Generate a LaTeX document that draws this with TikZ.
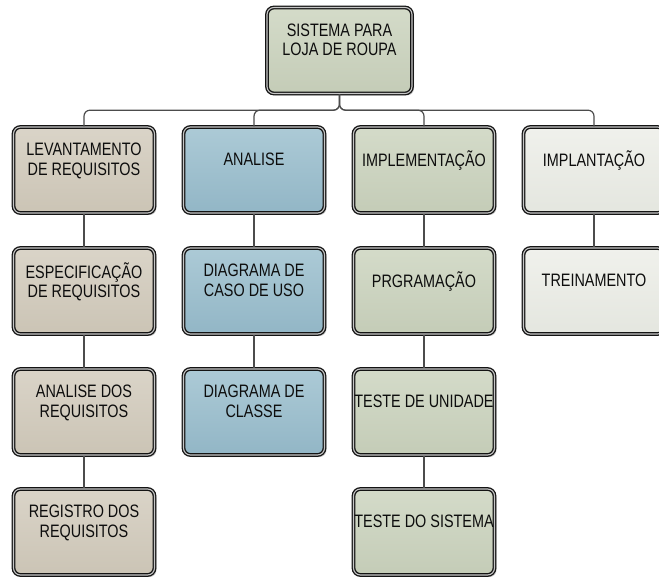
\documentclass[tikz,border=0pt]{standalone}
\usepackage{fontspec}
\setmainfont[FakeStretch=0.8]{Liberation Sans}
\usetikzlibrary{shadows}
\definecolor{tanbox}{RGB}{203,196,181}
\definecolor{tanlight}{RGB}{218,212,200}
\definecolor{bluebox}{RGB}{146,182,198}
\definecolor{bluelight}{RGB}{172,202,214}
\definecolor{greenbox}{RGB}{196,204,183}
\definecolor{greenlight}{RGB}{212,219,201}
\definecolor{palebox}{RGB}{228,230,223}
\definecolor{palelight}{RGB}{240,241,236}
\newcommand{\boxtext}[1]{\raisebox{4pt}[0pt][0pt]{\begin{tabular}{@{}c@{}}#1\end{tabular}}}
\tikzset{
	wbs/.style={draw=black!92, line width=1.35pt, double=black!22, double distance=1.1pt,
		rounded corners=7pt, minimum width=141pt, minimum height=86pt, inner sep=0pt,
		font=\fontsize{18}{19.3}\selectfont, text=black!95,
		drop shadow={shadow xshift=2pt, shadow yshift=-2pt, opacity=0.2, fill=black}},
	tanwbs/.style={wbs, top color=tanlight, bottom color=tanbox},
	bluewbs/.style={wbs, top color=bluelight, bottom color=bluebox},
	greenwbs/.style={wbs, top color=greenlight, bottom color=greenbox},
	palewbs/.style={wbs, top color=palelight, bottom color=palebox},
	link/.style={draw=black!70, line width=1.2pt, rounded corners=6pt}
}
\begin{document}
\begin{tikzpicture}[x=1pt, y=-1pt]
		%%%%% START %%%%%
		\useasboundingbox (0, 0) rectangle (659, 577);
		
		\node[greenwbs, minimum width=145pt] (sistema) at (339.5, 50.5) {\boxtext{SISTEMA PARA\\LOJA DE ROUPA}};
		
		% levantamento
		\node[tanwbs] (levant) at (84, 170) {\boxtext{LEVANTAMENTO\\DE REQUISITOS}};
		\node[tanwbs] (especif) at (84, 291) {\boxtext{ESPECIFICAÇÃO\\DE REQUISITOS}};
		\node[tanwbs] (analreq) at (84, 412) {\boxtext{ANALISE DOS\\REQUISITOS}};
		\node[tanwbs] (registro) at (84, 532) {\boxtext{REGISTRO DOS\\REQUISITOS}};
		
		% analise
		\node[bluewbs] (analise) at (254, 170) {\boxtext{ANALISE}};
		\node[bluewbs] (casouso) at (254, 291) {\boxtext{DIAGRAMA DE\\CASO DE USO}};
		\node[bluewbs] (classe) at (254, 412) {\boxtext{DIAGRAMA DE\\CLASSE}};
		
		% implementacao
		\node[greenwbs] (implem) at (424, 170) {\boxtext{IMPLEMENTAÇÃO}};
		\node[greenwbs] (program) at (424, 291) {\boxtext{PRGRAMAÇÃO}};
		\node[greenwbs] (unidade) at (424, 412) {\boxtext{TESTE DE UNIDADE}};
		\node[greenwbs] (testesis) at (424, 532) {\boxtext{TESTE DO SISTEMA}};
		
		% implantacao
		\node[palewbs] (implant) at (594, 170) {\boxtext{IMPLANTAÇÃO}};
		\node[palewbs] (treino) at (594, 291) {\boxtext{TREINAMENTO}};
		
		\draw[link] (sistema.south) -- ++(0, 16) -| (levant.north);
		\draw[link] (sistema.south) -- ++(0, 16) -| (analise.north);
		\draw[link] (sistema.south) -- ++(0, 16) -| (implem.north);
		\draw[link] (sistema.south) -- ++(0, 16) -| (implant.north);
		
		\draw[link] (levant.south) -- (especif.north);
		\draw[link] (especif.south) -- (analreq.north);
		\draw[link] (analreq.south) -- (registro.north);
		
		\draw[link] (analise.south) -- (casouso.north);
		\draw[link] (casouso.south) -- (classe.north);
		
		\draw[link] (implem.south) -- (program.north);
		\draw[link] (program.south) -- (unidade.north);
		\draw[link] (unidade.south) -- (testesis.north);
		
		\draw[link] (implant.south) -- (treino.north);
		
		%%%%% END %%%%%
\end{tikzpicture}
\end{document}
